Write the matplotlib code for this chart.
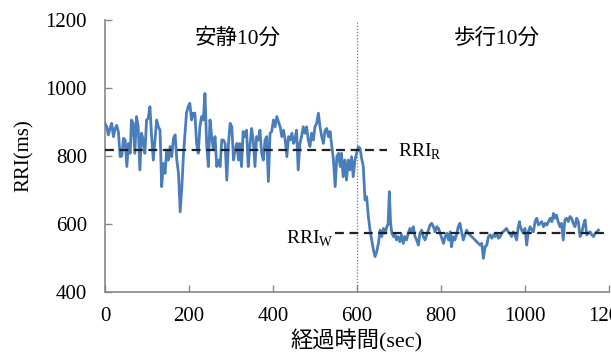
import matplotlib
matplotlib.use("Agg")
import matplotlib.pyplot as plt

plt.rcParams['font.family'] = ['Liberation Serif', 'Noto Sans CJK JP']
plt.rcParams['mathtext.fontset'] = 'custom'
plt.rcParams['mathtext.rm'] = 'Liberation Serif'

# elapsed time (sec) and RRI (ms)
t_sec = [0, 4, 8, 12, 16, 20, 24, 28, 32, 36, 40, 44, 48, 52, 56, 60, 63, 67, 71, 75,
         79, 83, 87, 91, 95, 99, 103, 107, 111, 115, 119, 123, 127, 131, 135, 139, 143, 147, 151, 155,
         159, 163, 167, 171, 175, 179, 183, 187, 190, 194, 198, 202, 206, 210, 214, 218, 222, 226, 230, 234,
         238, 242, 246, 250, 254, 258, 262, 266, 270,
         274, 278, 282, 286, 290, 294, 298, 302, 306, 310, 314, 318, 321, 325, 329, 333, 337, 341, 345, 349,
         353, 357, 361, 365, 369, 373, 377, 381, 385, 389, 393, 397, 401, 405, 409, 413, 417, 421, 425, 429,
         433, 437, 441, 445, 449, 452, 456, 460, 464, 468, 472, 476, 480, 484, 488, 492, 496, 500, 504, 508,
         512, 516, 520, 524, 528, 532, 536, 540, 544, 548, 552, 556,
         560, 563, 567, 571, 575, 579, 583, 587, 591, 595, 599, 603, 607, 611, 615, 619, 623, 627, 631, 635,
         639, 643, 647, 651, 655, 659, 663, 667, 671, 674, 677, 680, 683, 687, 691, 694, 698, 702, 706, 710,
         714, 718, 722, 726, 730, 734, 738, 742, 746, 750, 754, 758, 762, 766, 770, 774, 778, 782, 786, 790,
         794, 798, 802, 806, 810, 814, 818, 822, 825, 829, 833, 837, 841, 845,
         849, 853, 857, 861, 865, 869, 873, 877, 881, 885, 889, 893, 897, 901, 905, 909, 913, 917, 921, 925,
         929, 933, 937, 941, 944, 948, 952, 956, 960, 964, 968, 972, 976, 980, 984, 987, 988, 992, 996, 1000,
         1004, 1008, 1012, 1016, 1020, 1024, 1028, 1032, 1036, 1040, 1044, 1048, 1052, 1056, 1060, 1064, 1068, 1071, 1075, 1079,
         1083, 1087, 1091, 1095, 1099, 1103, 1107, 1111, 1115, 1119, 1123, 1127, 1131, 1135, 1139, 1143, 1147, 1151, 1155, 1159,
         1163, 1167, 1171, 1175]
rri_ms = [896, 886, 862, 881, 896, 857, 880, 890, 870, 798, 800, 852, 847, 769, 837, 808, 906, 896, 808, 916,
          886, 759, 867, 847, 808, 906, 911, 945, 857, 788, 847, 906, 886, 876, 710, 778, 749, 818, 788, 828,
          798, 852, 862, 788, 749, 636, 710, 808, 857, 926, 945, 955, 906, 926, 926, 837, 808, 886, 916, 906,
          984, 837, 769, 906, 857, 818, 857, 769, 788,
          769, 847, 847, 837, 729, 837, 896, 886, 788, 818, 837, 788, 837, 769, 872, 857, 876, 769, 828, 881,
          847, 769, 857, 847, 876, 808, 788, 847, 857, 725, 867, 872, 906, 886, 916, 901, 886, 857, 876, 847,
          798, 857, 847, 867, 837, 847, 876, 759, 837, 857, 886, 867, 886, 847, 828, 867, 847, 886, 896, 926,
          886, 857, 837, 876, 881, 857, 872, 828, 788, 710, 798, 808,
          769, 808, 739, 788, 729, 788, 759, 798, 739, 788, 808, 827, 823, 793, 769, 671, 680, 622, 582, 553,
          524, 504, 519, 543, 582, 563, 587, 573, 592, 600, 695, 602, 573, 563, 568, 553, 563, 548, 568, 543,
          563, 553, 573, 587, 577, 592, 563, 553, 538, 573, 582, 563, 553, 568, 582, 597, 602, 592, 577, 592,
          587, 573, 558, 543, 563, 573, 553, 577, 533, 563, 553, 568, 592, 602,
          577, 553, 568, 582, 573, 568, 563, 558, 553, 548, 543, 538, 543, 499, 533, 538, 563, 568, 558, 568,
          563, 573, 558, 563, 573, 577, 582, 587, 577, 573, 563, 577, 568, 553, 592, 607, 597, 582, 573, 587,
          538, 577, 592, 582, 577, 607, 617, 597, 602, 607, 592, 602, 597, 607, 617, 607, 631, 617, 626, 607,
          592, 602, 553, 612, 617, 607, 622, 617, 602, 592, 617, 607, 563, 573, 597, 612, 568, 573, 577, 568,
          563, 573, 577, 582]

rri_rest = 817
rri_walk = 575
x_ticks = [0, 200, 400, 600, 800, 1000, 1200]
y_ticks = [400, 600, 800, 1000, 1200]

fig = plt.figure(figsize=(6.11, 3.58), dpi=100)
ax = fig.add_axes([105 / 611, 66 / 358, 504 / 611, 272 / 358])

ax.plot(t_sec, rri_ms, color='#4a7ebb', lw=2.0, zorder=3)
ax.plot([0, 672], [rri_rest, rri_rest], color='#222222', lw=1.6, dashes=(4, 2.5), zorder=4)
ax.plot([548, 1200], [rri_walk, rri_walk], color='#222222', lw=1.6, dashes=(4, 2.5), zorder=4)
ax.axvline(600, ymax=0.995, color='#777777', lw=0.9, ls=(0, (1, 1.5)), zorder=2)

ax.text(698, 797, r'RRI$_{\rm R}$', fontsize=14, va='baseline', ha='left')
ax.text(545, 541, r'RRI$_{\rm W}$', fontsize=14, va='baseline', ha='right')
ax.text(317, 1147, '安静10分', fontsize=15.5, ha='center', va='center')
ax.text(933, 1147, '歩行10分', fontsize=15.5, ha='center', va='center')

ax.set_xlim(0, 1200)
ax.set_ylim(400, 1200)
ax.set_xticks(x_ticks)
ax.set_yticks(y_ticks)
ax.tick_params(direction='in', length=5, width=1, color='#888888', labelsize=15)
ax.tick_params(axis='x', pad=11)
ax.tick_params(axis='y', pad=13)
for s in ['top', 'right']:
    ax.spines[s].set_visible(False)
for s in ['left', 'bottom']:
    ax.spines[s].set_color('#888888')
    ax.spines[s].set_linewidth(1.2)

ax.set_ylabel('RRI(ms)', fontsize=15, labelpad=8)
ax.set_xlabel('経過時間(sec)', fontsize=16, labelpad=2)

fig.savefig('out.png', dpi=100)
